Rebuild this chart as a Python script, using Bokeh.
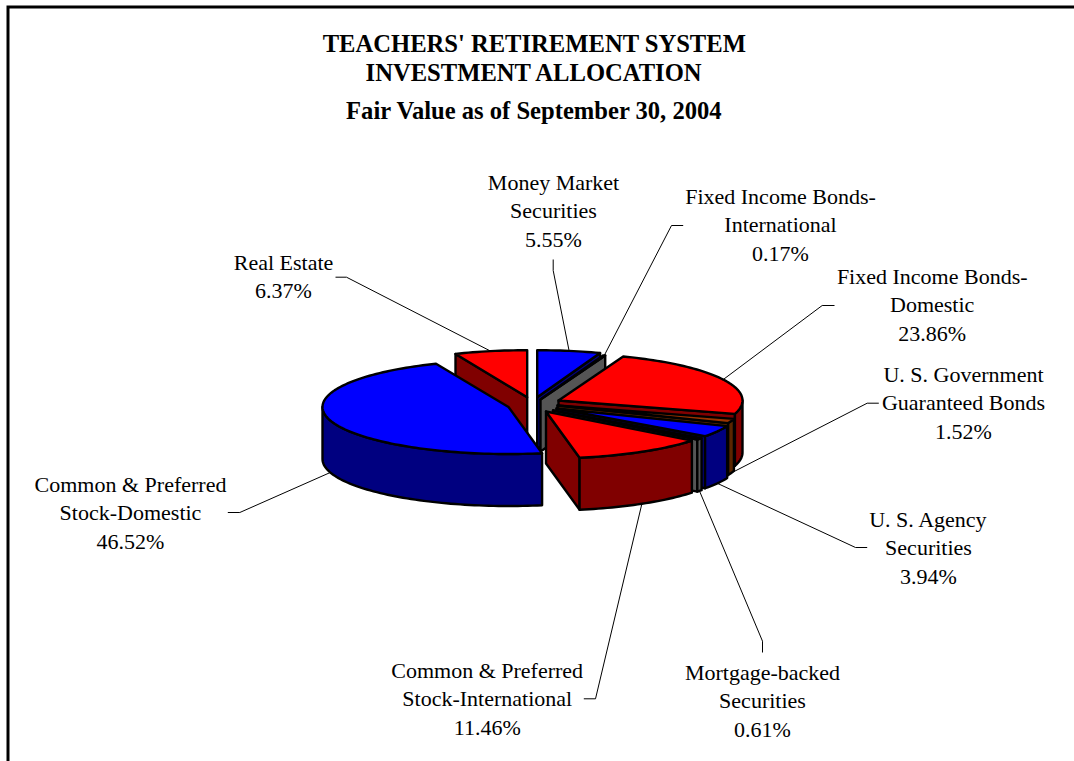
import math
from bokeh.core.properties import value
from bokeh.embed import file_html
from bokeh.models import ColumnDataSource, Range1d
from bokeh.plotting import figure
from bokeh.resources import INLINE

# ---- data ----
categories = ["Money Market Securities", "Fixed Income Bonds-International",
              "Fixed Income Bonds-Domestic", "U. S. Government Guaranteed Bonds",
              "U. S. Agency Securities", "Mortgage-backed Securities",
              "Common & Preferred Stock-International",
              "Common & Preferred Stock-Domestic", "Real Estate"]
percents = [5.55, 0.17, 23.86, 1.52, 3.94, 0.61, 11.46, 46.52, 6.37]
label_lines = [["Money Market", "Securities"],
               ["Fixed Income Bonds-", "International"],
               ["Fixed Income Bonds-", "Domestic"],
               ["U. S. Government", "Guaranteed Bonds"],
               ["U. S. Agency", "Securities"],
               ["Mortgage-backed", "Securities"],
               ["Common & Preferred", "Stock-International"],
               ["Common & Preferred", "Stock-Domestic"],
               ["Real Estate"]]
title_lines = ["TEACHERS' RETIREMENT SYSTEM", "INVESTMENT ALLOCATION",
               "Fair Value as of September 30, 2004"]

# ---- styles / layout ----
top_colors = ["#0000FF", "#555555", "#FF0000", "#993300", "#0000FF", "#555555",
              "#FF0000", "#0000FF", "#FF0000"]
wall_colors = ["#000080", "#555555", "#800000", "#5A2600", "#000080", "#555555",
               "#800000", "#000080", "#800000"]
apex_x = [536.7, 540, 558, 557, 556, 552.5, 545.5, 508, 526.7]
apex_y = [396.7, 399, 400, 405, 408, 410, 411, 406.5, 396.7]
radius_x = [184, 184, 184, 184, 184, 184, 186, 186, 184]
radius_y = 47
depth = 52
label_x = [553, 780, 931.7, 963, 928, 762, 486.7, 130, 283]
label_y = [181.5, 195.5, 275.5, 373.5, 518.5, 671.5, 669.5, 483.5, 261.5]
line_gap = 28.8
# leader: elbow, then free end next to the label
elbow = [(552.7, 270), (671, 225), (821.7, 305), (866.7, 402.7), (855, 547),
         (762, 640.7), (595, 698.3), (239.3, 512), (346, 276.7)]
leader_end = [(552.7, 259), (682.7, 225), (834, 305), (878.3, 402.7), (866.7, 547),
              (762, 652), (583.3, 698.3), (227.3, 512), (335, 276.7)]

p = figure(width=1074, height=761, output_backend="svg", toolbar_location=None,
           x_range=Range1d(0, 1074), y_range=Range1d(761, 0),
           x_axis_type=None, y_axis_type=None, min_border=0,
           outline_line_color=None, background_fill_color="white",
           margin=(0, 0, 0, 0))
p.grid.visible = False


def arc_point(i, deg, dz=0):
    t = math.radians(deg)
    return (apex_x[i] + radius_x[i] * math.sin(t),
            apex_y[i] - radius_y * math.cos(t) + dz)


def arc_points(i, a0, a1, dz=0):
    n = max(2, int(abs(a1 - a0) / 1.5) + 2)
    return [arc_point(i, a0 + (a1 - a0) * k / (n - 1), dz) for k in range(n)]


polys_x, polys_y, fills = [], [], []


def add_poly(pts, color):
    polys_x.append([q[0] for q in pts])
    polys_y.append([q[1] for q in pts])
    fills.append(color)


starts, cum = [], 0.0
for v in percents:
    starts.append(cum * 3.6)
    cum += v

for i, v in sorted(enumerate(percents), key=lambda e: (e[0] + 1) % len(percents)):
    a0, a1 = starts[i], starts[i] + v * 3.6
    c = (apex_x[i], apex_y[i])
    cb = (apex_x[i], apex_y[i] + depth)
    # start face
    if math.sin(math.radians(a0)) < -1e-6:
        add_poly([c, arc_point(i, a0), arc_point(i, a0, depth), cb], wall_colors[i])
    # end face
    if math.sin(math.radians(a1)) > 1e-6:
        add_poly([c, arc_point(i, a1), arc_point(i, a1, depth), cb], wall_colors[i])
    # outer wall (front half only)
    w0, w1 = max(a0, 90), min(a1, 270)
    if w1 > w0:
        add_poly(arc_points(i, w0, w1) + arc_points(i, w1, w0, depth), wall_colors[i])
    # top
    add_poly([c] + arc_points(i, a0, a1), top_colors[i])

p.patches(xs="x", ys="y", fill_color="c", line_color="black", line_width=2.4,
          line_join="round",
          source=ColumnDataSource(dict(x=polys_x, y=polys_y, c=fills)))

# leaders start at each slice's mid-angle on the visible rim
lx, ly = [], []
for i, v in enumerate(percents):
    mid = starts[i] + v * 1.8
    dz = depth if math.cos(math.radians(mid)) < 0 else 0
    s = arc_point(i, mid, dz)
    lx.append([s[0], elbow[i][0], leader_end[i][0]])
    ly.append([s[1], elbow[i][1], leader_end[i][1]])
p.multi_line(xs=lx, ys=ly, line_color="black", line_width=1)

# frame
p.line([1074, 7.5, 7.5], [6.5, 6.5, 761], line_color="black", line_width=3,
       line_join="miter")

# labels
tx, ty, tt = [], [], []
for i, v in enumerate(percents):
    lines = label_lines[i] + [f"{v:.2f}%"]
    for k, s in enumerate(lines):
        tx.append(label_x[i])
        ty.append(label_y[i] + k * line_gap)
        tt.append(s)
p.text(x=tx, y=ty, text=tt, text_font=value("Liberation Serif"), text_font_size="22px",
       text_align="center", text_baseline="middle", text_color="black")

p.text(x=[534, 534, 534], y=[43, 72, 110], text=title_lines,
       text_font=value("Liberation Serif"), text_font_size="24.6px",
       text_font_style="bold", text_align="center", text_baseline="middle",
       text_color="black")

open("out.html", "w").write(file_html(p, INLINE))
